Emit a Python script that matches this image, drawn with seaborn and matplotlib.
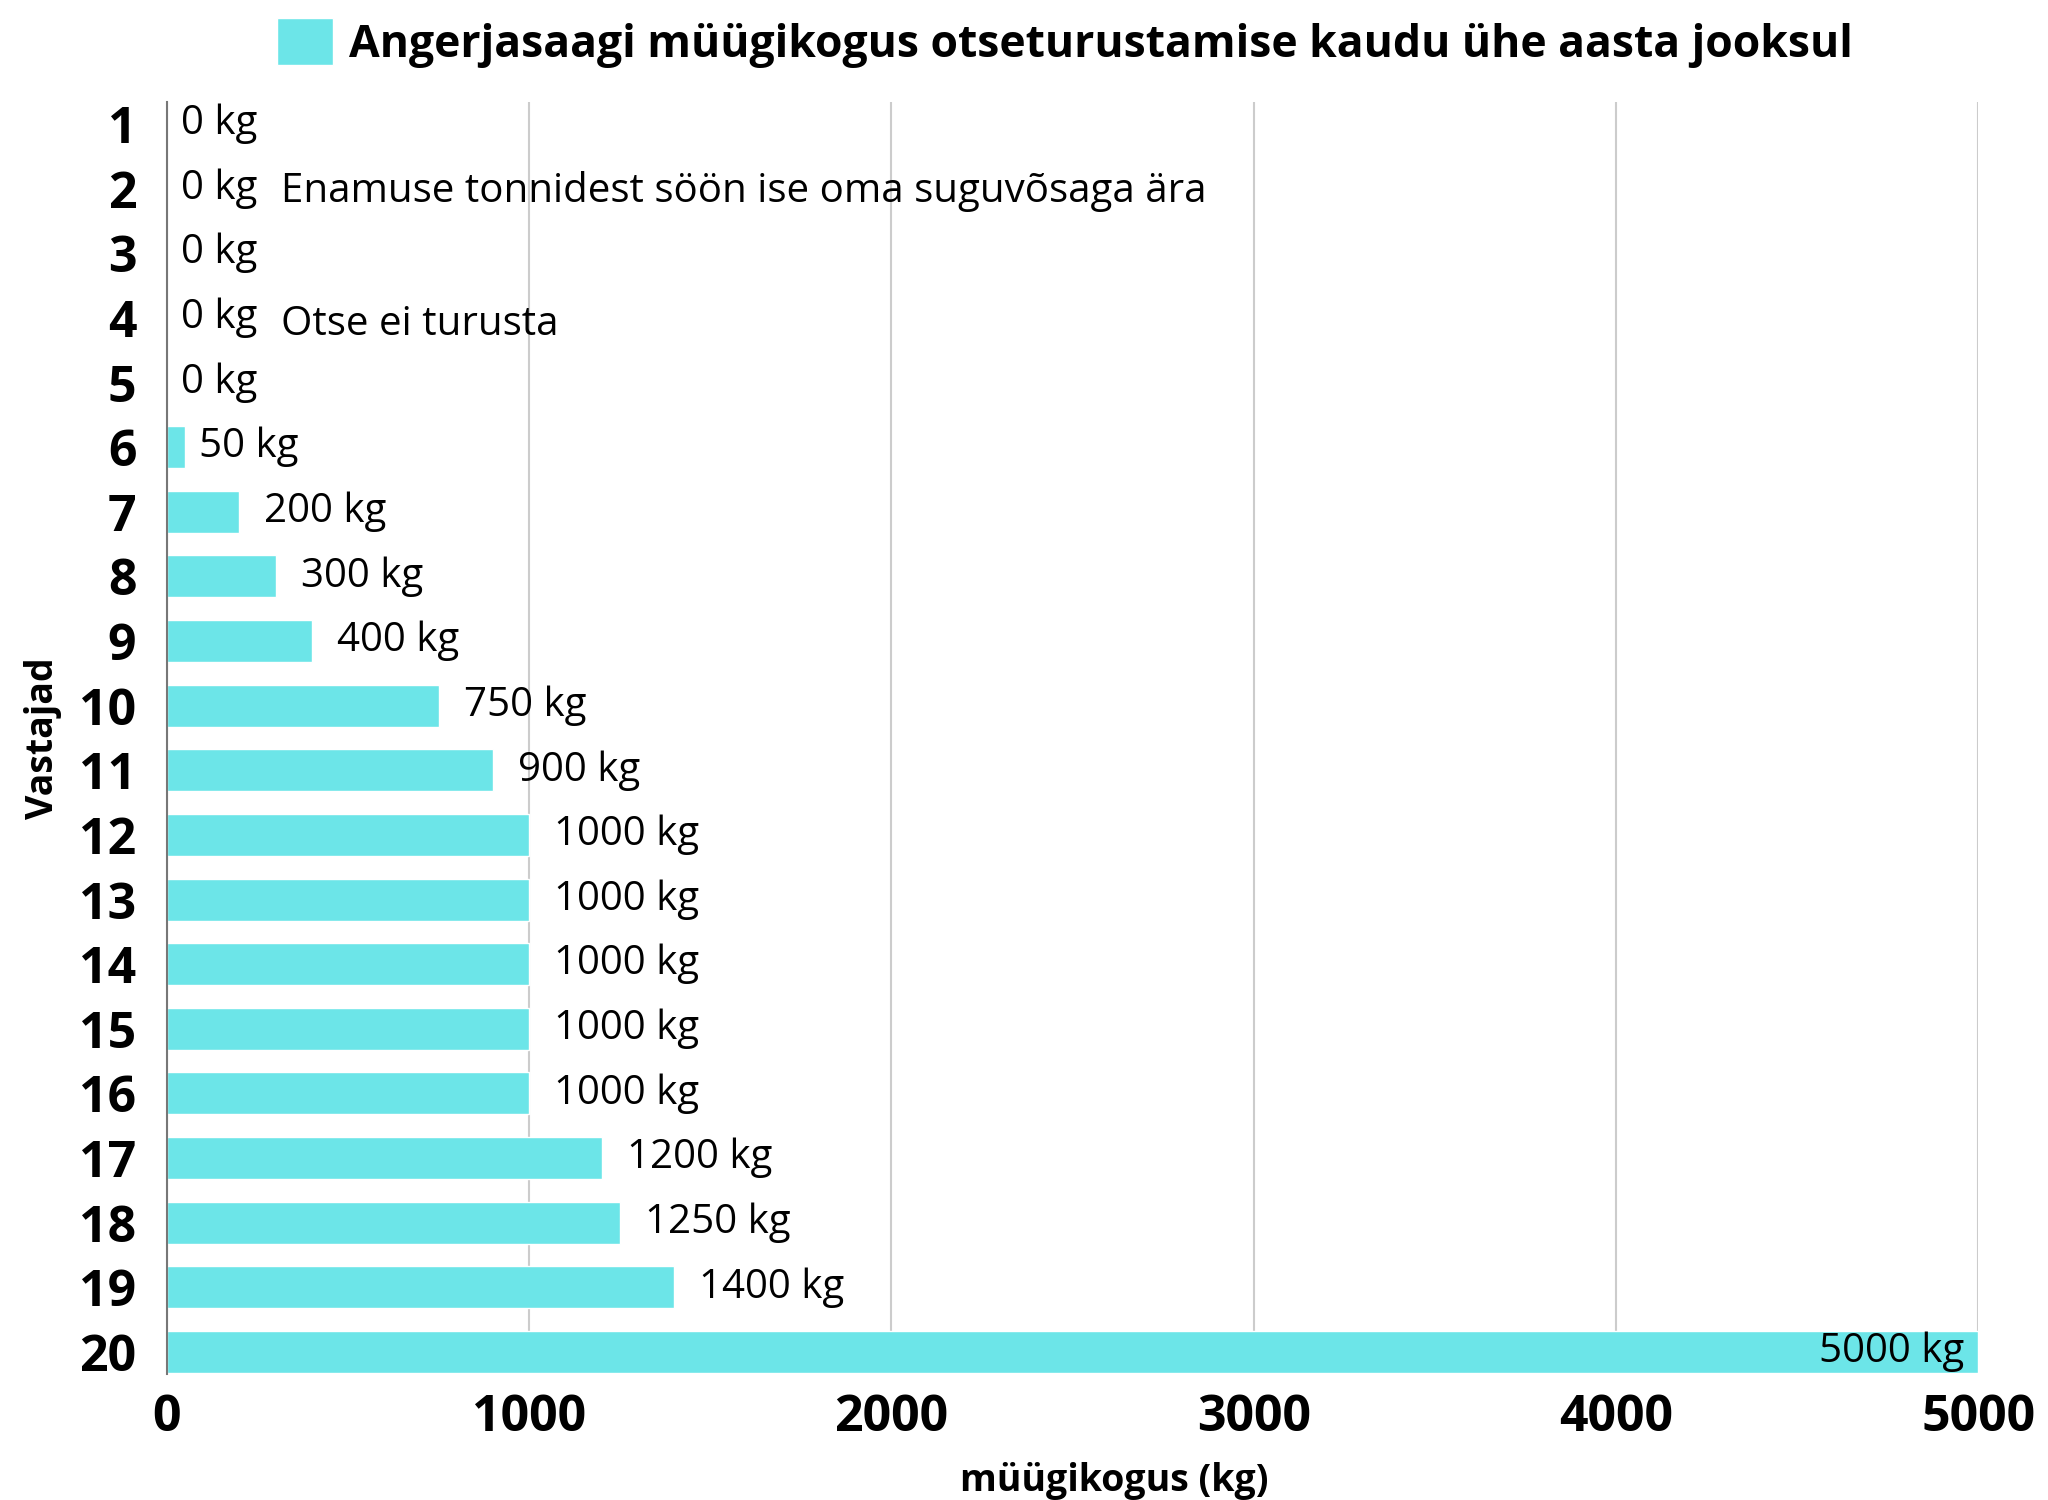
import numpy as np
import pandas as pd
import matplotlib
matplotlib.use("Agg")
import matplotlib.pyplot as plt
import seaborn as sns

# data
respondents = [str(i) for i in range(1, 21)]
amounts = [0, 0, 0, 0, 0, 50, 200, 300, 400, 750, 900,
           1000, 1000, 1000, 1000, 1000, 1200, 1250, 1400, 5000]
notes = {"2": "Enamuse tonnidest söön ise oma suguvõsaga ära",
         "4": "Otse ei turusta"}
x_ticks = [0, 1000, 2000, 3000, 4000, 5000]

series_name = "Angerjasaagi müügikogus otseturustamise kaudu ühe aasta jooksul"
bar_color = "#6ce5e8"

df = pd.DataFrame({"Vastajad": respondents, "kogus": amounts})

sns.set_theme(style="white")
plt.rcParams["font.family"] = ["Open Sans", "DejaVu Sans"]
plt.rcParams["text.color"] = "black"

fig, ax = plt.subplots(figsize=(20.48, 15), dpi=100)
fig.subplots_adjust(left=0.0815, right=0.966, top=0.932, bottom=0.084)

sns.barplot(data=df, x="kogus", y="Vastajad", order=respondents,
            color=bar_color, saturation=1, width=0.65, orient="h",
            label=series_name, ax=ax)

# value labels
for i, v in enumerate(amounts):
    if v >= 5000:
        ax.annotate(f"{v} kg", xy=(v, i), xytext=(-10, 0), textcoords="offset points",
                    ha="right", va="center", fontsize=29, color="black")
    else:
        pad = 10 if v < 100 else 18
        ax.annotate(f"{v} kg", xy=(v, i), xytext=(pad, 0), textcoords="offset points",
                    ha="left", va="center", fontsize=29, color="black")

offsets = {"2": 0.04, "4": 0.1}
for cat, txt in notes.items():
    ax.text(315, respondents.index(cat) + offsets[cat], txt, ha="left", va="center",
            fontsize=29, color="black")

ax.set_xlim(0, 5000)
ax.set_ylim(19.34, -0.34)
ax.set_xticks(x_ticks)
ax.set_xticklabels([str(t) for t in x_ticks], fontsize=36, fontweight="bold", color="black")
ax.set_yticks(range(len(respondents)))
ax.set_yticklabels(respondents, fontsize=36, fontweight="bold", color="black")
ax.tick_params(axis="x", length=0, pad=14)
ax.tick_params(axis="y", length=0, pad=22)

ax.grid(axis="x", color="#cccccc", linewidth=1.5)
ax.set_axisbelow(True)
for s in ["top", "right", "bottom"]:
    ax.spines[s].set_visible(False)
ax.spines["left"].set_color("#777777")
ax.spines["left"].set_linewidth(1.5)

ax.set_xlabel("müügikogus (kg)", fontsize=27, fontweight="bold", labelpad=13, color="black")
ax.xaxis.label.set_x(0.523)
ax.set_ylabel("Vastajad", fontsize=27, fontweight="bold", labelpad=12, color="black")

if ax.legend_:
    ax.legend_.remove()
handles, labels = ax.get_legend_handles_labels()
fig.legend(handles, labels, loc="center", bbox_to_anchor=(0.52, 1 - 43 / 1500),
           frameon=False, prop={"size": 32, "weight": "bold"},
           handlelength=1.25, handleheight=1.25, handletextpad=0.35)

fig.savefig("out.png", dpi=100)
